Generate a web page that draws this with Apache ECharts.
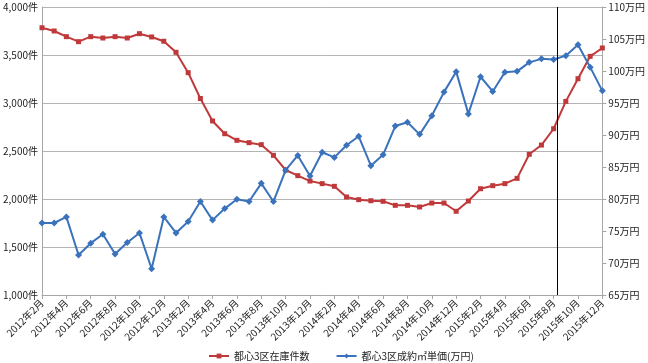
<!DOCTYPE html>
<html><head><meta charset="utf-8">
<script src="https://cdn.jsdelivr.net/npm/echarts@6/dist/echarts.min.js"></script>
<style>html,body{margin:0;padding:0;background:#fff}#c{width:648px;height:363px}</style>
</head><body><div id="c"></div>
<script>
const categories = [];
for (let y = 2012; y <= 2015; y++) {
  for (let m = 1; m <= 12; m++) {
    if (y === 2012 && m < 2) continue;
    categories.push(y + '年' + m + '月');
  }
}
const stockName = '都心3区在庫件数';
const priceName = '都心3区成約㎡単価(万円)';
const stock = [3784,3750,3691,3639,3691,3677,3691,3677,3722,3688,3643,3528,3316,3047,2813,2680,2611,2587,2566,2455,2302,2243,2187,2160,2132,2021,1993,1982,1976,1934,1934,1917,1958,1958,1872,1979,2107,2139,2160,2215,2466,2562,2732,3017,3253,3486,3573];
const price = [76.25,76.25,77.2,71.25,73.1,74.5,71.4,73.2,74.7,69.1,77.2,74.7,76.5,79.6,76.7,78.5,79.95,79.6,82.45,79.6,84.5,86.8,83.6,87.3,86.5,88.4,89.8,85.2,86.9,91.4,92.0,90.1,93.0,96.7,99.9,93.3,99.1,96.8,99.8,99.95,101.35,101.9,101.8,102.4,104.1,100.6,96.9];
const markerPos = 42.3; // vertical line position (category index)

const font = '"Noto Sans CJK JP", "Noto Sans", sans-serif';
const chart = echarts.init(document.getElementById('c'));
chart.setOption({
  animation: false,
  textStyle: { fontFamily: font },
  grid: { left: 42, right: 41, top: 7, bottom: 68 },
  legend: {
    top: 346, left: 203, data: [stockName, priceName],
    itemWidth: 20, itemHeight: 6, itemGap: 26,
    textStyle: { fontSize: 10, color: '#222', fontFamily: font }
  },
  xAxis: [{
    type: 'category', data: categories, boundaryGap: false,
    axisLine: { lineStyle: { color: '#a6a6a6' } },
    axisTick: { show: true, interval: 1, length: 4, lineStyle: { color: '#a6a6a6' } },
    axisLabel: { interval: 1, rotate: 45, fontSize: 10, color: '#222', margin: 6, fontFamily: font }
  }, {
    type: 'value', min: 0, max: categories.length - 1, show: false
  }],
  yAxis: [{
    type: 'value', min: 1000, max: 4000, interval: 500,
    axisLine: { show: true, lineStyle: { color: '#a6a6a6' } },
    axisTick: { show: false },
    splitLine: { lineStyle: { color: '#b4b4b4', width: 1 } },
    axisLabel: { fontSize: 10, color: '#222', margin: 4, fontFamily: font,
      formatter: v => v.toLocaleString('en-US') + '件' }
  }, {
    type: 'value', min: 65, max: 110, interval: 5,
    axisLine: { show: true, lineStyle: { color: '#a6a6a6' } },
    axisTick: { show: true, length: 4, lineStyle: { color: '#a6a6a6' } },
    splitLine: { show: false },
    axisLabel: { fontSize: 10, color: '#222', margin: 6, fontFamily: font,
      formatter: v => v + '万円' }
  }],
  series: [{
    name: stockName, type: 'line', data: stock, yAxisIndex: 0,
    symbol: 'rect', symbolSize: 5,
    lineStyle: { color: '#C0393A', width: 2 }, itemStyle: { color: '#C0393A' }
  }, {
    name: priceName, type: 'line', data: price, yAxisIndex: 1,
    symbol: 'diamond', symbolSize: 7,
    lineStyle: { color: '#3A72BC', width: 2 }, itemStyle: { color: '#3A72BC' }
  }, {
    name: 'marker', type: 'line', xAxisIndex: 1, yAxisIndex: 0,
    data: [[markerPos, 1000]], showSymbol: false, silent: true,
    markLine: { symbol: 'none', silent: true, label: { show: false },
      lineStyle: { color: '#000', width: 1, type: 'solid' },
      data: [{ xAxis: markerPos }] }
  }]
});
</script></body></html>
